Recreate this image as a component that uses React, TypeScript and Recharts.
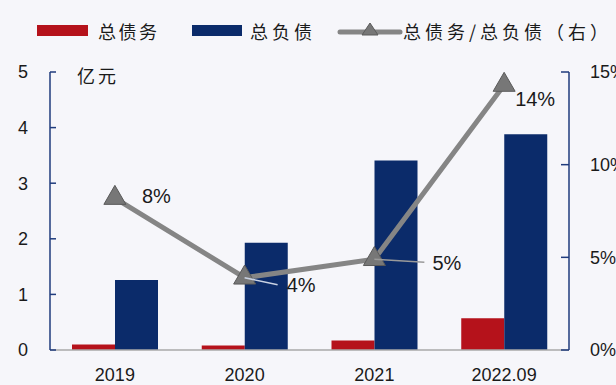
import React from 'react';
import { ComposedChart, Bar, Line, XAxis, YAxis, Legend, LabelList } from 'recharts';

const categories = ['2019', '2020', '2021', '2022.09'];
const totalDebt = [0.1, 0.08, 0.17, 0.57];
const totalLiab = [1.26, 1.93, 3.41, 3.88];
const ratio = [8.2, 3.9, 4.9, 14.3];
const ratioLabels = ['8%', '4%', '5%', '14%'];
const leftTicks = [0, 1, 2, 3, 4, 5];
const rightTicks = [0, 5, 10, 15];
const seriesNames = ['总债务', '总负债', '总债务/总负债（右）'];

const data = categories.map((c, i) => ({
  name: c,
  debt: totalDebt[i],
  liab: totalLiab[i],
  ratio: ratio[i],
  label: ratioLabels[i],
}));

const RED = '#B5121B';
const BLUE = '#0B2B6A';
const GRAY = '#858585';
const NUM_FONT = '"Liberation Sans", Arial, sans-serif';
const CJK_FONT = '"Noto Sans CJK SC", sans-serif';

// label placement relative to each point (style only)
const labelPlace = [
  { dx: 27, dy: -2, leader: null as null | { x: number; y: number; c: string } },
  { dx: 42, dy: 7, leader: { x: 33, y: 7, c: '#c9d2e3' } },
  { dx: 58, dy: 4, leader: { x: 50, y: 3, c: '#9a9a9a' } },
  { dx: 11, dy: 14, leader: null },
];

const Triangle = (props: any) => {
  const { cx, cy, index } = props;
  if (cx == null || cy == null) return null;
  const w = 22;
  const h = 19;
  return (
    <path
      key={`tri-${index}`}
      d={`M${cx},${cy - (h * 2) / 3} L${cx + w / 2},${cy + h / 3} L${cx - w / 2},${cy + h / 3} Z`}
      fill="#777777"
      stroke="#5a5a5a"
      strokeWidth={1}
    />
  );
};

const RatioLabel = (props: any) => {
  const { x, y, index, value } = props;
  const p = labelPlace[index];
  return (
    <g>
      {p.leader && (
        <line x1={x} y1={y} x2={x + p.leader.x} y2={y + p.leader.y} stroke={p.leader.c} strokeWidth={1.5} />
      )}
      <text
        x={x + p.dx}
        y={y + p.dy}
        dominantBaseline="central"
        textAnchor="start"
        fontSize={20}
        fontFamily={NUM_FONT}
        fill="#1a1a1a"
      >
        {value}
      </text>
    </g>
  );
};

const renderLegend = () => {
  const textStyle: React.CSSProperties = {
    position: 'absolute',
    top: 19,
    fontFamily: CJK_FONT,
    fontSize: 18,
    letterSpacing: 2.5,
    color: '#1a1a1a',
    lineHeight: '24px',
    whiteSpace: 'nowrap',
  };
  return (
    <div style={{ position: 'relative', width: 616, height: 0 }}>
      <div style={{ position: 'absolute', left: 37, top: 25, width: 51, height: 11, background: RED }} />
      <div style={{ ...textStyle, left: 98 }}>{seriesNames[0]}</div>
      <div style={{ position: 'absolute', left: 192, top: 25, width: 50, height: 11, background: BLUE }} />
      <div style={{ ...textStyle, left: 250, letterSpacing: 4 }}>{seriesNames[1]}</div>
      <svg style={{ position: 'absolute', left: 337, top: 20 }} width={66} height={22}>
        <line x1={3} y1={12} x2={63} y2={12} stroke={GRAY} strokeWidth={5} strokeLinecap="round" />
        <path d="M33,3 L41,15 L25,15 Z" fill="#777777" stroke="#5a5a5a" strokeWidth={1} />
      </svg>
      <div style={{ ...textStyle, left: 403, letterSpacing: 4 }}>{seriesNames[2]}</div>
    </div>
  );
};

export default function App() {
  return (
    <div
      style={{
        position: 'fixed',
        left: 0,
        top: 0,
        width: 616,
        height: 385,
        background: '#f6f6fa',
        overflow: 'hidden',
      }}
    >
      <ComposedChart
        width={616}
        height={385}
        data={data}
        margin={{ top: 72, right: 0, bottom: 0, left: 10 }}
        barGap={0}
      >
        <Legend verticalAlign="top" align="left" content={renderLegend} wrapperStyle={{ top: 0, left: 0 }} />
        <XAxis
          dataKey="name"
          axisLine={{ stroke: '#a8a8a8', strokeWidth: 1.5 }}
          tickLine={false}
          tickSize={0}
          tickMargin={18}
          height={35}
          interval={0}
          tick={{ fontSize: 18, fill: '#1a1a1a', fontFamily: NUM_FONT }}
        />
        <YAxis
          yAxisId="left"
          orientation="left"
          domain={[0, 5]}
          ticks={leftTicks}
          interval={0}
          width={40}
          axisLine={{ stroke: '#1f3b7d', strokeWidth: 1.5 }}
          tickLine={{ stroke: '#1f3b7d', strokeWidth: 1.5 }}
          tickSize={-6}
          tickMargin={28}
          tick={{ fontSize: 18, fill: '#1a1a1a', fontFamily: NUM_FONT }}
        />
        <YAxis
          yAxisId="right"
          orientation="right"
          domain={[0, 15]}
          ticks={rightTicks}
          interval={0}
          width={47}
          axisLine={{ stroke: '#1f3b7d', strokeWidth: 1.5 }}
          tickLine={{ stroke: '#1f3b7d', strokeWidth: 1.5 }}
          tickSize={-8}
          tickMargin={29}
          tickFormatter={(v: number) => `${v}%`}
          tick={{ fontSize: 18, fill: '#1a1a1a', fontFamily: NUM_FONT }}
        />
        <Bar yAxisId="left" dataKey="debt" name={seriesNames[0]} fill={RED} barSize={43} isAnimationActive={false} />
        <Bar yAxisId="left" dataKey="liab" name={seriesNames[1]} fill={BLUE} barSize={43} isAnimationActive={false} />
        <Line
          yAxisId="right"
          dataKey="ratio"
          name={seriesNames[2]}
          stroke={GRAY}
          strokeWidth={5}
          dot={Triangle}
          activeDot={false}
          isAnimationActive={false}
        >
          <LabelList dataKey="label" content={RatioLabel} />
        </Line>
      </ComposedChart>
      <div
        style={{
          position: 'absolute',
          left: 77,
          top: 63,
          fontFamily: CJK_FONT,
          fontSize: 18,
          letterSpacing: 3,
          color: '#1a1a1a',
          lineHeight: '24px',
        }}
      >
        亿元
      </div>
    </div>
  );
}
